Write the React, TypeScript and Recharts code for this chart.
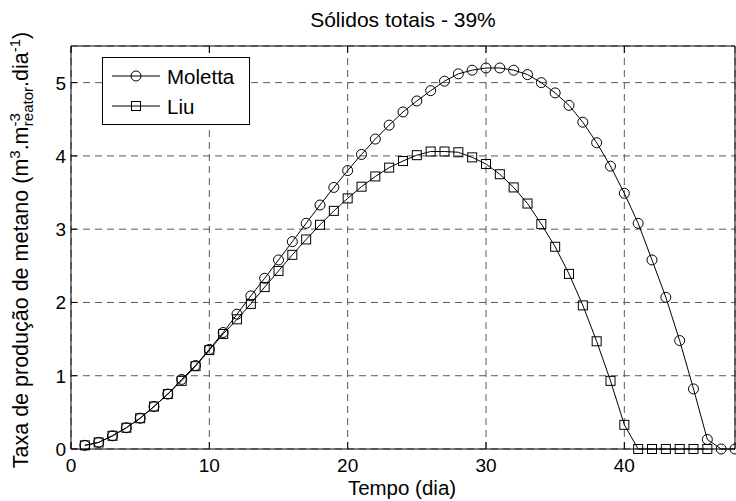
import React from 'react';
import { LineChart, Line, XAxis, YAxis, CartesianGrid } from 'recharts';

const days = [
  1, 2, 3, 4, 5, 6, 7, 8, 9, 10, 11, 12, 13, 14, 15, 16, 17, 18, 19, 20, 21, 22, 23, 24,
  25, 26, 27, 28, 29, 30, 31, 32, 33, 34, 35, 36, 37, 38, 39, 40, 41, 42, 43, 44, 45, 46, 47, 48,
];

const moletta = [
  0.05, 0.09, 0.18, 0.29, 0.42, 0.58, 0.75, 0.95, 1.14, 1.36, 1.59, 1.84, 2.09, 2.33, 2.58, 2.83,
  3.08, 3.33, 3.57, 3.8, 4.02, 4.23, 4.42, 4.6, 4.75, 4.89, 5.02, 5.12, 5.17, 5.2, 5.2, 5.17,
  5.11, 5.0, 4.86, 4.69, 4.46, 4.18, 3.86, 3.49, 3.08, 2.58, 2.07, 1.48, 0.82, 0.13, 0, 0,
];

const liu = [
  0.05, 0.09, 0.18, 0.29, 0.42, 0.58, 0.75, 0.93, 1.13, 1.35, 1.57, 1.77, 1.98, 2.21, 2.43, 2.65,
  2.86, 3.06, 3.25, 3.42, 3.58, 3.72, 3.84, 3.93, 4.01, 4.06, 4.06, 4.05, 3.98, 3.89, 3.75, 3.57,
  3.35, 3.07, 2.76, 2.39, 1.96, 1.47, 0.93, 0.33, 0, 0, 0, 0, 0, 0,
];

const xTicks = [0, 10, 20, 30, 40];
const yTicks = [0, 1, 2, 3, 4, 5];
const seriesNames = ['Moletta', 'Liu'];
const titleText = 'Sólidos totais - 39%';
const xLabelText = 'Tempo (dia)';

const data = days.map((d, i) => ({
  t: d,
  moletta: moletta[i],
  liu: i < liu.length ? liu[i] : undefined,
}));

const FONT = '"Liberation Sans", Arial, Helvetica, sans-serif';
const TICK_FS = 19;
const LABEL_FS = 20.5;

const CircleDot = (props: any) => {
  const { cx, cy, index } = props;
  if (cx == null || cy == null) return <g key={`c${index}`} />;
  return <circle key={`c${index}`} cx={cx} cy={cy} r={5} fill="none" stroke="#000" strokeWidth={1} />;
};

const SquareDot = (props: any) => {
  const { cx, cy, index } = props;
  if (cx == null || cy == null) return <g key={`s${index}`} />;
  return <rect key={`s${index}`} x={cx - 4.5} y={cy - 4.5} width={9} height={9} fill="none" stroke="#000" strokeWidth={1} />;
};

const BottomTick = (props: any) => {
  const { x, y, payload } = props;
  return (
    <g>
      <line x1={x} y1={y} x2={x} y2={y - 7} stroke="#000" strokeWidth={1} />
      <text x={x} y={y + 23} textAnchor="middle" fontSize={TICK_FS} fontFamily={FONT} fill="#000">
        {payload.value}
      </text>
    </g>
  );
};

const TopTick = (props: any) => {
  const { x, y } = props;
  return <line x1={x} y1={y} x2={x} y2={y + 7} stroke="#000" strokeWidth={1} />;
};

const LeftTick = (props: any) => {
  const { x, y, payload } = props;
  return (
    <g>
      <line x1={x} y1={y} x2={x + 6} y2={y} stroke="#000" strokeWidth={1} />
      <text x={x - 5} y={y + 7} textAnchor="end" fontSize={TICK_FS} fontFamily={FONT} fill="#000">
        {payload.value}
      </text>
    </g>
  );
};

const RightTick = (props: any) => {
  const { x, y } = props;
  return <line x1={x} y1={y} x2={x - 6} y2={y} stroke="#000" strokeWidth={1} />;
};

export default function App() {
  return (
    <div style={{ position: 'absolute', left: 0, top: 0, width: 736, height: 501, background: '#fff' }}>
      <LineChart width={736} height={501} data={data} margin={{ top: 40, right: 0, bottom: 0, left: 0 }}>
        <CartesianGrid stroke="#5a5a5a" strokeDasharray="7 5" strokeWidth={1} />
        <XAxis
          dataKey="t"
          type="number"
          domain={[0, 48]}
          ticks={xTicks}
          height={52}
          tickSize={0}
          tickMargin={0}
          tickLine={false}
          axisLine={{ stroke: '#000', strokeWidth: 1 }}
          tick={BottomTick}
          interval={0}
        />
        <XAxis
          xAxisId="top"
          orientation="top"
          dataKey="t"
          type="number"
          domain={[0, 48]}
          ticks={xTicks}
          height={6}
          tickSize={0}
          tickMargin={0}
          tickLine={false}
          axisLine={{ stroke: '#000', strokeWidth: 1 }}
          tick={TopTick}
          interval={0}
        />
        <YAxis
          type="number"
          domain={[0, 5.5]}
          ticks={yTicks}
          width={71}
          tickSize={0}
          tickMargin={0}
          tickLine={false}
          axisLine={{ stroke: '#000', strokeWidth: 1 }}
          tick={LeftTick}
          interval={0}
        />
        <YAxis
          yAxisId="right"
          orientation="right"
          type="number"
          domain={[0, 5.5]}
          ticks={yTicks}
          width={1}
          tickSize={0}
          tickMargin={0}
          tickLine={false}
          axisLine={{ stroke: '#000', strokeWidth: 1 }}
          tick={RightTick}
          interval={0}
        />
        <Line
          dataKey="moletta"
          name={seriesNames[0]}
          type="linear"
          stroke="#000"
          strokeWidth={1}
          dot={CircleDot}
          activeDot={false}
          isAnimationActive={false}
          connectNulls={false}
        />
        <Line
          dataKey="liu"
          name={seriesNames[1]}
          type="linear"
          stroke="#000"
          strokeWidth={1}
          dot={SquareDot}
          activeDot={false}
          isAnimationActive={false}
          connectNulls={false}
        />
        <text x={403} y={27} textAnchor="middle" fontSize={21} fontFamily={FONT} fill="#000">
          {titleText}
        </text>
        <text x={402} y={495} textAnchor="middle" fontSize={LABEL_FS} fontFamily={FONT} fill="#000">
          {xLabelText}
        </text>
        <text
          transform="rotate(-90)"
          x={-250}
          y={28}
          textAnchor="middle"
          fontSize={21.5}
          fontFamily={FONT}
          fill="#000"
        >
          Taxa de produção de metano (m
          <tspan dy={-8} fontSize={15}>3</tspan>
          <tspan dy={8}>.m</tspan>
          <tspan dy={-8} fontSize={15}>-3</tspan>
          <tspan dx={-13} dy={13} fontSize={15}>reator</tspan>
          <tspan dy={-5}>.dia</tspan>
          <tspan dy={-8} fontSize={15}>-1</tspan>
          <tspan dy={8}>)</tspan>
        </text>
        <g>
          <rect x={102.5} y={57.5} width={147} height={67} fill="#fff" stroke="#000" strokeWidth={1} />
          <line x1={112} y1={76} x2={160} y2={76} stroke="#000" strokeWidth={1} />
          <circle cx={136} cy={76} r={5} fill="none" stroke="#000" strokeWidth={1} />
          <text x={167} y={83.5} fontSize={LABEL_FS} fontFamily={FONT} fill="#000">
            {seriesNames[0]}
          </text>
          <line x1={112} y1={106} x2={160} y2={106} stroke="#000" strokeWidth={1} />
          <rect x={131.5} y={101.5} width={9} height={9} fill="none" stroke="#000" strokeWidth={1} />
          <text x={167} y={113.5} fontSize={LABEL_FS} fontFamily={FONT} fill="#000">
            {seriesNames[1]}
          </text>
        </g>
      </LineChart>
    </div>
  );
}
